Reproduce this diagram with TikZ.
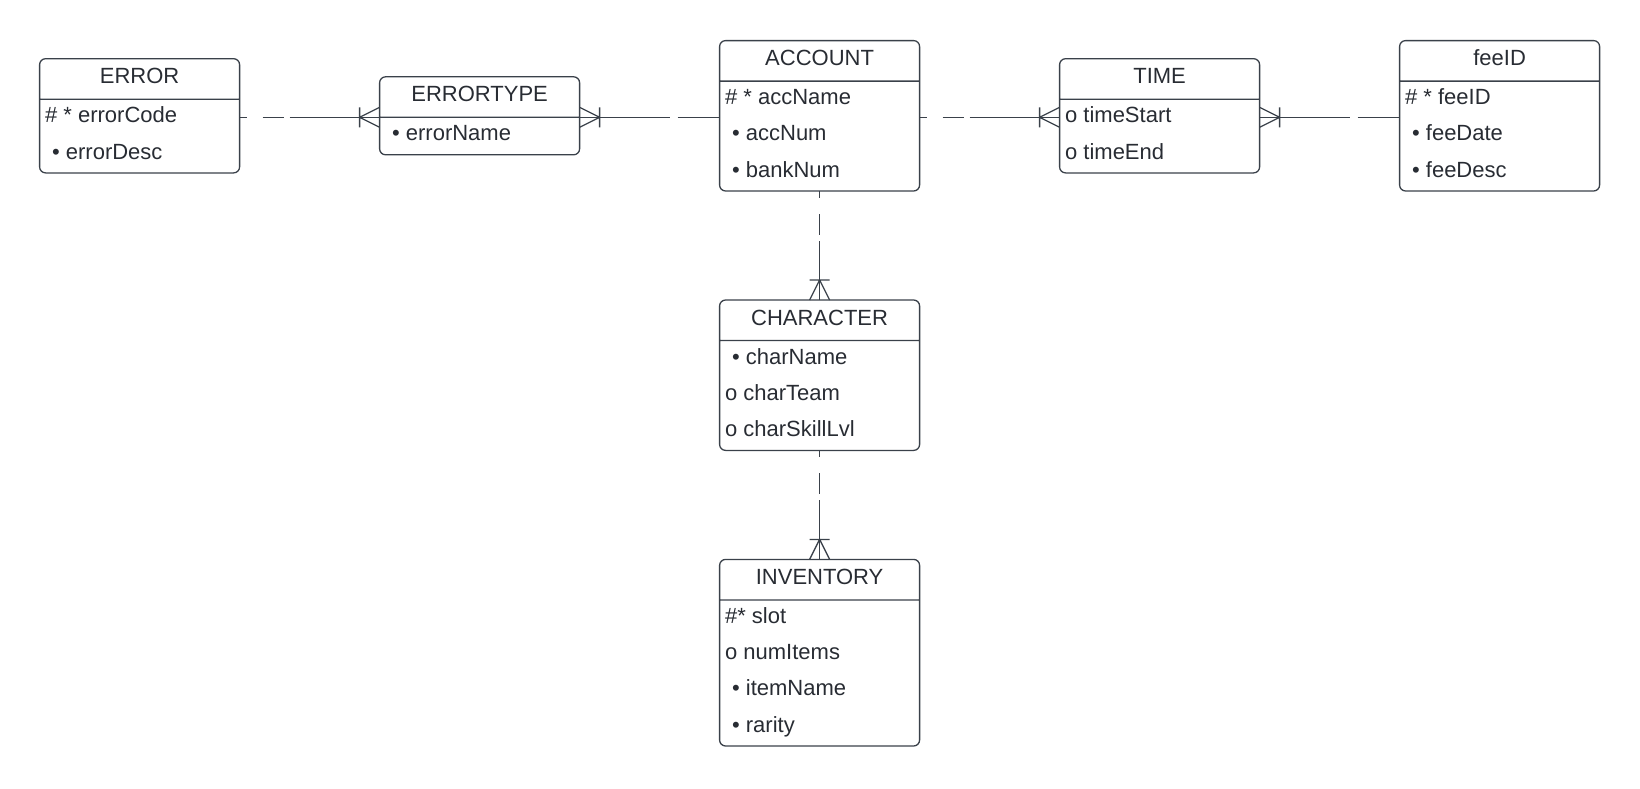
\documentclass[tikz,border=0pt]{standalone}
\usepackage{fontspec}
\setmainfont{Liberation Sans}
\usepackage{tikz}
\usetikzlibrary{positioning,shapes.multipart}
\usepackage{xcolor}
\definecolor{erline}{HTML}{3A414A}
\definecolor{ertext}{HTML}{282C33}

% crow's foot with bar (one or many)
\pgfarrowsdeclare{crow}{crow}
{\pgfarrowsleftextend{-10pt}\pgfarrowsrightextend{0pt}}
{
  \pgfsetdash{}{0pt}
  \pgfpathmoveto{\pgfpoint{0pt}{5pt}}
  \pgfpathlineto{\pgfpoint{-10pt}{0pt}}
  \pgfpathlineto{\pgfpoint{0pt}{-5pt}}
  \pgfpathmoveto{\pgfpoint{-10pt}{5pt}}
  \pgfpathlineto{\pgfpoint{-10pt}{-5pt}}
  \pgfusepathqstroke
}

\newcommand{\hstrut}{\rule[-7.4pt]{0pt}{19.6pt}}
\newcommand{\rstrut}{\rule[-6.6pt]{0pt}{18.1pt}}
\newcommand{\bul}{\hspace{3.5pt}•}

\begin{document}
\begin{tikzpicture}[line width=0.65pt,node distance=70pt,
    rel/.style={draw=erline,-crow,dash pattern=on 3.5pt off 8pt on 10.5pt off 3pt on 200pt off 1pt},
    relback/.style={draw=erline,crow-,dash pattern=on 45pt off 4pt on 200pt off 1pt}]
  \tikzstyle{entity}=[rectangle split,rectangle split parts=2,draw=erline,text=ertext,
    rounded corners=3pt,minimum width=100pt,inner xsep=2.75pt,inner ysep=0pt,outer sep=0pt,
    rectangle split part align={center,left},align=left,font=\fontsize{11}{18.1}\selectfont]

  \useasboundingbox (0,0) rectangle (820pt,-394pt);

  \node[entity] (acc) at (409.8pt,-57.9pt)
    {\hstrut ACCOUNT \nodepart{two} \rstrut\# * accName\\ \rstrut\bul{} accNum\\ \rstrut\bul{} bankNum};
  \node[entity] (errtype) [left=of acc]
    {\hstrut ERRORTYPE \nodepart{two} \rstrut\bul{} errorName};
  \node[entity] (err) [left=of errtype]
    {\hstrut ERROR \nodepart{two} \rstrut\# * errorCode\\ \rstrut\bul{} errorDesc};
  \node[entity] (time) [right=of acc]
    {\hstrut TIME \nodepart{two} \rstrut o timeStart\\ \rstrut o timeEnd};
  \node[entity] (fee) [right=of time]
    {\hstrut feeID \nodepart{two} \rstrut\# * feeID\\ \rstrut\bul{} feeDate\\ \rstrut\bul{} feeDesc};
  \node[entity] (char) [below=54.5pt of acc]
    {\hstrut CHARACTER \nodepart{two} \rstrut\bul{} charName\\ \rstrut o charTeam\\ \rstrut o charSkillLvl};
  \node[entity] (inv) [below=54.5pt of char]
    {\hstrut INVENTORY \nodepart{two} \rstrut\#* slot\\ \rstrut o numItems\\ \rstrut\bul{} itemName\\ \rstrut\bul{} rarity};

  \draw[rel] (err.east |- errtype.text split) -- (errtype.text split west);
  \draw[relback] (errtype.text split east) -- (acc.west |- errtype.text split);
  \draw[rel] (acc.east |- errtype.text split) -- (time.west |- errtype.text split);
  \draw[relback] (time.east |- errtype.text split) -- (fee.west |- errtype.text split);
  \draw[rel] (acc.south) -- (char.north);
  \draw[rel] (char.south) -- (inv.north);
\end{tikzpicture}
\end{document}
